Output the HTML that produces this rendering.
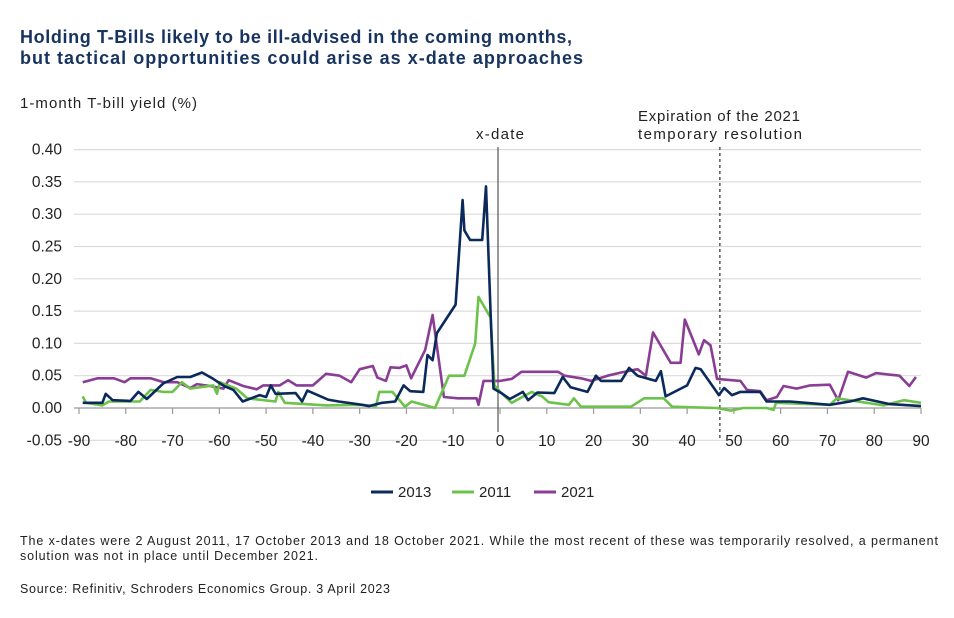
<!DOCTYPE html>
<html><head><meta charset="utf-8"><style>
body{margin:0;background:#fff;width:954px;height:613px;overflow:hidden;font-family:"Liberation Sans",Arial,sans-serif}
svg text{font-family:"Liberation Sans",Arial,sans-serif}
</style></head><body>
<svg id="chart" width="954" height="613">
<text x="20" y="43" font-size="18" font-weight="bold" fill="#17335f" textLength="552" lengthAdjust="spacing">Holding T-Bills likely to be ill-advised in the coming months,</text>
<text x="20" y="64" font-size="18" font-weight="bold" fill="#17335f" textLength="563" lengthAdjust="spacing">but tactical opportunities could arise as x-date approaches</text>
<text x="20" y="108" font-size="15" fill="#222" textLength="177" lengthAdjust="spacing">1-month T-bill yield (%)</text>
<text x="476" y="139" font-size="15" fill="#222" textLength="48" lengthAdjust="spacing">x-date</text>
<text x="638" y="121" font-size="15" fill="#222" textLength="162" lengthAdjust="spacing">Expiration of the 2021</text>
<text x="638" y="139" font-size="15" fill="#222" textLength="164" lengthAdjust="spacing">temporary resolution</text>
<g id="grid"></g><g id="series"></g>
<g>
<line x1="371" y1="492" x2="393" y2="492" stroke="#0b2a5b" stroke-width="3"/>
<text x="398" y="497" font-size="15" fill="#222">2013</text>
<line x1="452" y1="492" x2="474" y2="492" stroke="#6cc24a" stroke-width="3"/>
<text x="479" y="497" font-size="15" fill="#222">2011</text>
<line x1="534" y1="492" x2="556" y2="492" stroke="#8a3d94" stroke-width="3"/>
<text x="561" y="497" font-size="15" fill="#222">2021</text>
</g>
<text x="20" y="545" font-size="12.5" fill="#222" textLength="918" lengthAdjust="spacing">The x-dates were 2 August 2011, 17 October 2013 and 18 October 2021. While the most recent of these was temporarily resolved, a permanent</text>
<text x="20" y="560" font-size="12.5" fill="#222" textLength="298" lengthAdjust="spacing">solution was not in place until December 2021.</text>
<text x="20" y="593" font-size="12.5" fill="#222" textLength="370" lengthAdjust="spacing">Source: Refinitiv, Schroders Economics Group. 3 April 2023</text>
</svg>
<script>
const yTicks=[0.40,0.35,0.30,0.25,0.20,0.15,0.10,0.05,0.00,-0.05];
const xTicks=[-90,-80,-70,-60,-50,-40,-30,-20,-10,0,10,20,30,40,50,60,70,80,90];
const xDate=0;
const expirationDay=47;
const days2013=[-89.2,-85,-84.3,-82.8,-79,-77.3,-75.5,-72,-69,-66.2,-63.7,-61.3,-59,-57,-55,-51.4,-50,-49,-48,-43.7,-42.3,-41.2,-36.8,-34.5,-29.5,-28,-25.2,-22.4,-20.6,-19.2,-16.4,-15.5,-14.4,-13.5,-9.5,-8,-7.6,-6.4,-3.8,-3,-2,-1.4,0.3,2.1,4.9,6,8,11.6,13.4,15.1,18.7,20.5,21.6,25.9,27.6,29.4,33.3,34.4,35.4,40,41.8,42.9,46.8,47.9,49.6,51.4,55.6,57,62,70.5,74.8,77.6,83.3,90];
const vals2013=[0.008,0.008,0.022,0.012,0.011,0.025,0.014,0.038,0.048,0.048,0.055,0.045,0.034,0.028,0.01,0.02,0.017,0.035,0.022,0.023,0.01,0.027,0.013,0.01,0.005,0.003,0.008,0.01,0.035,0.026,0.025,0.082,0.074,0.116,0.16,0.322,0.275,0.26,0.26,0.343,0.147,0.03,0.023,0.014,0.025,0.012,0.024,0.023,0.048,0.032,0.025,0.05,0.042,0.042,0.062,0.05,0.042,0.057,0.018,0.035,0.062,0.06,0.02,0.031,0.02,0.025,0.025,0.01,0.01,0.005,0.01,0.015,0.006,0.003];
const days2011=[-89.2,-88.5,-85,-83.6,-77,-74.7,-72,-70,-68,-66.2,-61.3,-60.5,-59.9,-56.4,-54,-48,-47.4,-46,-37,-30,-26.5,-25.8,-23,-20.3,-18.9,-15.3,-13.9,-10.9,-7.6,-5.3,-4.6,-2,-1.2,0.3,2.5,6.8,9,10.4,14.7,15.8,17.3,28,30.8,35,36.8,46.4,49.3,52,57,58.5,59,70.5,72,82,86.3,90];
const vals2011=[0.018,0.008,0.004,0.01,0.01,0.028,0.025,0.025,0.04,0.03,0.035,0.022,0.04,0.03,0.015,0.01,0.025,0.008,0.004,0.005,0.003,0.025,0.025,0.002,0.01,0.003,0.0,0.05,0.05,0.1,0.172,0.14,0.035,0.023,0.008,0.025,0.018,0.009,0.005,0.015,0.002,0.002,0.015,0.015,0.002,0.0,-0.004,0.0,0.0,-0.003,0.008,0.005,0.015,0.004,0.012,0.008];
const days2021=[-89.2,-86,-82.5,-80.3,-79,-74.7,-71.9,-69,-66.2,-64.8,-62,-59.1,-58,-54.9,-52,-50.6,-47.1,-45.3,-43.5,-40,-37.2,-34.3,-31.8,-30,-27.2,-26.2,-24.4,-23.4,-21.5,-20,-19,-16,-14.4,-12,-9,-5,-4.6,-3.5,-1.4,0,2.5,4.6,12.4,13.8,17.3,19.5,23,25.9,29.4,31.2,32.7,36.5,38.6,39.5,42.5,43.6,45,46.4,51.4,52.8,55.6,57,59.2,60.6,63.4,66.3,70.5,72.3,74.4,78.3,80.4,85.4,87.5,88.9];
const vals2021=[0.04,0.046,0.046,0.04,0.046,0.046,0.04,0.04,0.031,0.037,0.034,0.03,0.043,0.034,0.029,0.035,0.035,0.043,0.035,0.035,0.053,0.05,0.04,0.06,0.065,0.047,0.042,0.063,0.062,0.066,0.046,0.09,0.144,0.017,0.015,0.015,0.005,0.042,0.042,0.042,0.045,0.056,0.056,0.05,0.046,0.042,0.05,0.055,0.06,0.05,0.117,0.07,0.07,0.137,0.083,0.105,0.097,0.045,0.042,0.028,0.026,0.012,0.017,0.034,0.03,0.035,0.036,0.012,0.056,0.047,0.054,0.05,0.034,0.048];
const X0=79,X1=921,Y0=408,YS=32.3/0.05;
function xs(d){return X0+(d+90)*(X1-X0)/180;}
function ys(v){return Y0-v*YS;}
const NS='http://www.w3.org/2000/svg';
const grid=document.getElementById('grid'),ser=document.getElementById('series');
function mk(t,a,p){const e=document.createElementNS(NS,t);for(const k in a)e.setAttribute(k,a[k]);p.appendChild(e);return e;}
yTicks.forEach(v=>{
 if(v!==0){const l=mk('line',{x1:74,x2:X1,y1:ys(v),y2:ys(v),stroke:'#dcdcdc','stroke-width':1.2},grid);
 
 }
 const t=mk('text',{x:62,y:ys(v)+5,'font-size':15.5,fill:'#222','text-anchor':'end'},grid);
 t.textContent=v.toFixed(2);
 
 
});
const ax=mk('line',{x1:74,x2:X1,y1:Y0,y2:Y0,stroke:'#999','stroke-width':1.2},grid);


xTicks.forEach(d=>{
 const tk=mk('line',{x1:xs(d),x2:xs(d),y1:Y0,y2:Y0+6,stroke:'#999','stroke-width':1.2},grid);
 
 
 const t=mk('text',{x:xs(d),y:446,'font-size':15.5,fill:'#222','text-anchor':'middle'},grid);
 t.textContent=d;
 
 
});
const xl=mk('line',{x1:xs(xDate)-2,x2:xs(xDate)-2,y1:147,y2:432,stroke:'#555','stroke-width':1.2},grid);


const el=mk('line',{x1:xs(expirationDay),x2:xs(expirationDay),y1:147,y2:440,stroke:'#555','stroke-width':1.5,'stroke-dasharray':'3,3'},grid);


function draw(days,vals,col,name){
 const pts=days.map((d,i)=>xs(d).toFixed(1)+','+ys(vals[i]).toFixed(1)).join(' ');
 const p=mk('polyline',{points:pts,fill:'none',stroke:col,'stroke-width':2.6,'stroke-linejoin':'round'},ser);
 
 
}
draw(days2021,vals2021,'#8a3d94','series-2021-line');
draw(days2011,vals2011,'#6cc24a','series-2011-line');
draw(days2013,vals2013,'#0b2a5b','series-2013-line');
</script>
</body></html>
